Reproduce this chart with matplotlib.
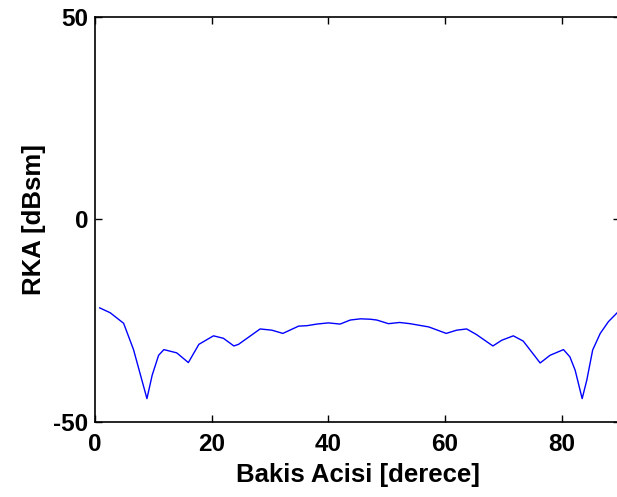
import matplotlib
matplotlib.use("Agg")
import matplotlib.pyplot as plt

angle_deg = [0.8, 2.6, 4.9, 6.6, 8.9, 9.8, 10.9, 11.8, 14.0, 16.0, 17.8, 20.3, 22.0,
             23.8, 24.6, 28.3, 30.3, 32.2, 34.9, 36.3, 38.0, 40.0, 42.0, 43.75, 45.5,
             47.2, 48.3, 50.3, 52.2, 54.0, 57.2, 60.2, 62.0, 63.7, 65.4, 68.2, 69.7,
             71.7, 73.4, 76.3, 78.0, 80.3, 81.4, 82.3, 83.5, 84.3, 85.3, 86.6, 88.0, 89.5]
rcs_dbsm = [-21.9, -23.1, -25.7, -32.2, -44.3, -38.5, -33.6, -32.2, -33.0, -35.4, -30.9,
            -28.8, -29.4, -31.3, -30.9, -27.1, -27.4, -28.2, -26.4, -26.3, -25.9, -25.6,
            -25.9, -24.9, -24.6, -24.7, -24.9, -25.8, -25.5, -25.8, -26.6, -28.2, -27.4,
            -27.1, -28.5, -31.3, -29.9, -28.8, -30.1, -35.5, -33.6, -32.2, -34.0, -37.3,
            -44.3, -39.7, -32.3, -28.2, -25.3, -23.1]
x_ticks = [0, 20, 40, 60, 80]
y_ticks = [-50, 0, 50]

plt.rcParams['font.family'] = ['Liberation Sans', 'DejaVu Sans']
plt.rcParams['axes.unicode_minus'] = False
fig = plt.figure(figsize=(6.17, 4.97), dpi=100)
ax = fig.add_axes([0.154, 0.1515, 0.851, 0.815])
ax.plot(angle_deg, rcs_dbsm, color=(0, 0, 1), lw=1.0)
ax.set_xlim(0, 90)
ax.set_ylim(-50, 50)
ax.set_xticks(x_ticks)
ax.set_yticks(y_ticks)
ax.tick_params(direction='in', length=5, width=1.0, top=True, right=True,
               labelsize=17.5)
ax.tick_params(axis='x', pad=8)
ax.tick_params(axis='y', pad=5)
for lbl in ax.get_xticklabels() + ax.get_yticklabels():
    lbl.set_fontweight('bold')
for s in ax.spines.values():
    s.set_linewidth(1.2)
ax.set_xlabel('Bakis Acisi [derece]', fontsize=18.5, fontweight='bold', labelpad=5)
ax.set_ylabel('RKA [dBsm]', fontsize=18.5, fontweight='bold', labelpad=5)
fig.savefig('out.png', dpi=100)
